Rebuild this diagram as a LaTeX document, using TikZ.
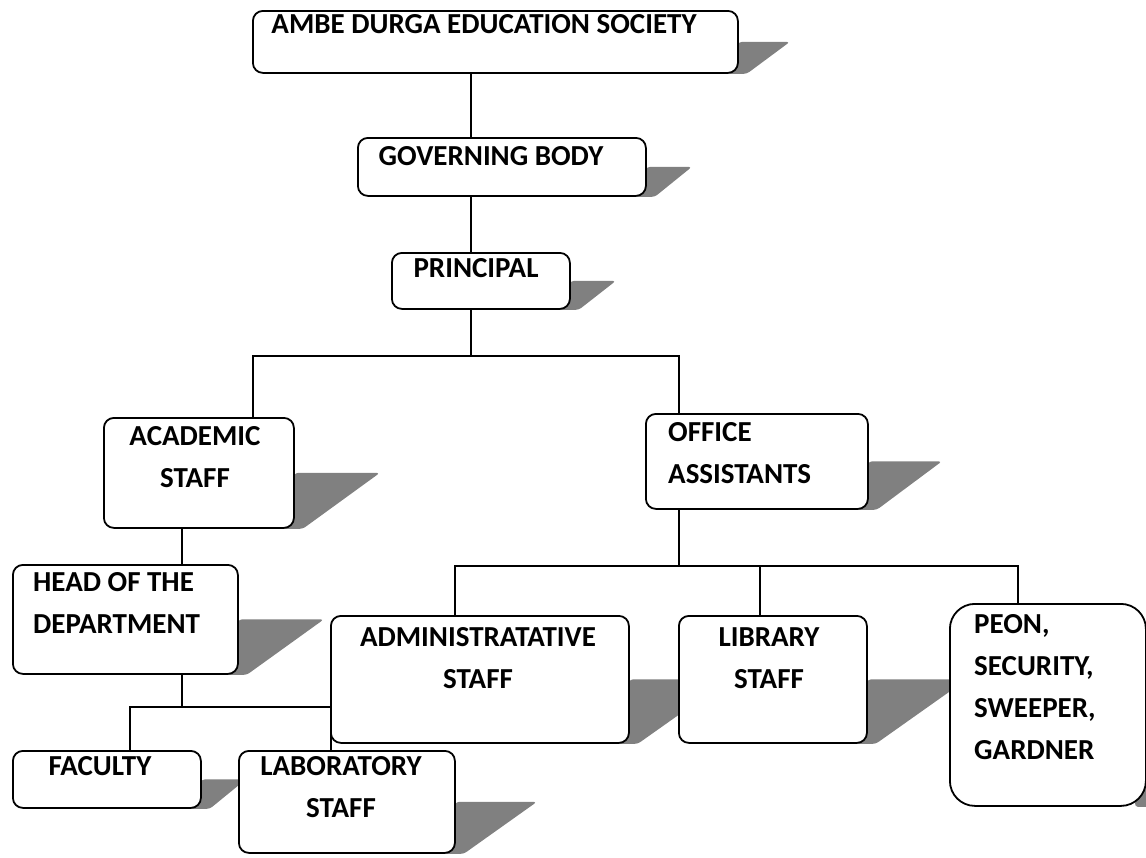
\documentclass[tikz,border=0pt]{standalone}
\usepackage{fontspec}
\newfontfamily\orgfont{Carlito}
\usetikzlibrary{backgrounds}
\definecolor{shadowgray}{RGB}{128,128,128}
\tikzset{
  orgbox/.style={draw, line width=1.8pt, fill=white, rounded corners=10pt, anchor=north west, inner sep=0pt},
  orgtext/.style={font=\orgfont\bfseries\fontsize{29}{42}\selectfont, inner sep=0pt, align=center, anchor=north},
  orgleft/.style={orgtext, align=left, anchor=north west},
  orgline/.style={line width=1.5pt},
}

\begin{document}
\begin{tikzpicture}[x=1pt,y=-1pt]
\useasboundingbox (0,0) rectangle (1146,857);

% boxes
\node[orgbox, minimum width=485, minimum height=62] (society) at (252,10) {};
\node[orgbox, minimum width=288, minimum height=58] (governing) at (357,137) {};
\node[orgbox, minimum width=178, minimum height=56] (principal) at (391,252) {};
\node[orgbox, minimum width=190, minimum height=110] (academic) at (103,417) {};
\node[orgbox, minimum width=222, minimum height=95] (office) at (645,413) {};
\node[orgbox, minimum width=225, minimum height=109] (hod) at (12,564) {};
\node[orgbox, minimum width=298, minimum height=127] (admin) at (330,615) {};
\node[orgbox, minimum width=188, minimum height=127] (library) at (678,615) {};
\node[orgbox, minimum width=196, minimum height=202, rounded corners=25pt] (peon) at (949,603) {};
\node[orgbox, minimum width=188, minimum height=57] (faculty) at (12,750) {};
\node[orgbox, minimum width=216, minimum height=102] (lab) at (238,750) {};

% shadows
\begin{scope}[on background layer]
\foreach \b/\e in {society/51,governing/45,principal/45,academic/85,office/73,hod/85,admin/99,library/99,peon/158,faculty/44,lab/81}
  \fill[shadowgray, rounded corners=3pt] (\b.east) -- ++(\e,0) -- ([xshift=8]\b.south east) -- ([xshift=-12]\b.south east) -- cycle;
\end{scope}

% texts
\node[orgtext] (societytxt) at (484,14) {AMBE DURGA EDUCATION SOCIETY};
\node[orgtext] (governingtxt) at (491,146) {GOVERNING BODY};
\node[orgtext] (principaltxt) at (476,258) {PRINCIPAL};
\node[orgtext] (academictxt) at (195,426) {ACADEMIC\\STAFF};
\node[orgleft] (officetxt) at (668,422) {OFFICE\\ASSISTANTS};
\node[orgleft] (hodtxt) at (33,572) {HEAD OF THE\\DEPARTMENT};
\node[orgtext] (admintxt) at (478,627) {ADMINISTRATATIVE\\STAFF};
\node[orgtext] (librarytxt) at (769,627) {LIBRARY\\STAFF};
\node[orgleft] (peontxt) at (974,614) {PEON,\\SECURITY,\\SWEEPER,\\GARDNER};
\node[orgtext] (facultytxt) at (100,756) {FACULTY};
\node[orgtext] (labtxt) at (341,756) {LABORATORY\\STAFF};

% connectors
\coordinate (split1) at (471,356);
\coordinate (split1l) at (253,356);
\coordinate (split1r) at (679,356);
\coordinate (split2) at (182,707);
\coordinate (split2l) at (130,707);
\coordinate (split2r) at (331,707);
\coordinate (split3) at (679,566);
\coordinate (split3l) at (455,566);
\coordinate (split3m) at (760,566);
\coordinate (split3r) at (1018,566);

\draw[orgline] (society.south -| split1) -- (governing.north -| split1);
\draw[orgline] (governing.south -| split1) -- (principal.north -| split1);
\draw[orgline] (principal.south -| split1) -- (split1);
\draw[orgline] (academic.north -| split1l) -- (split1l) -- (split1r) -- (office.north -| split1r);
\draw[orgline] (academic.south -| split2) -- (hod.north -| split2);
\draw[orgline] (hod.south -| split2) -- (split2);
\draw[orgline] (faculty.north -| split2l) -- (split2l) -- (split2r) -- (lab.north -| split2r);
\draw[orgline] (office.south -| split3) -- (split3);
\draw[orgline] (admin.north -| split3l) -- (split3l) -- (split3r) -- (peon.north -| split3r);
\draw[orgline] (split3m) -- (library.north -| split3m);
\end{tikzpicture}
\end{document}
